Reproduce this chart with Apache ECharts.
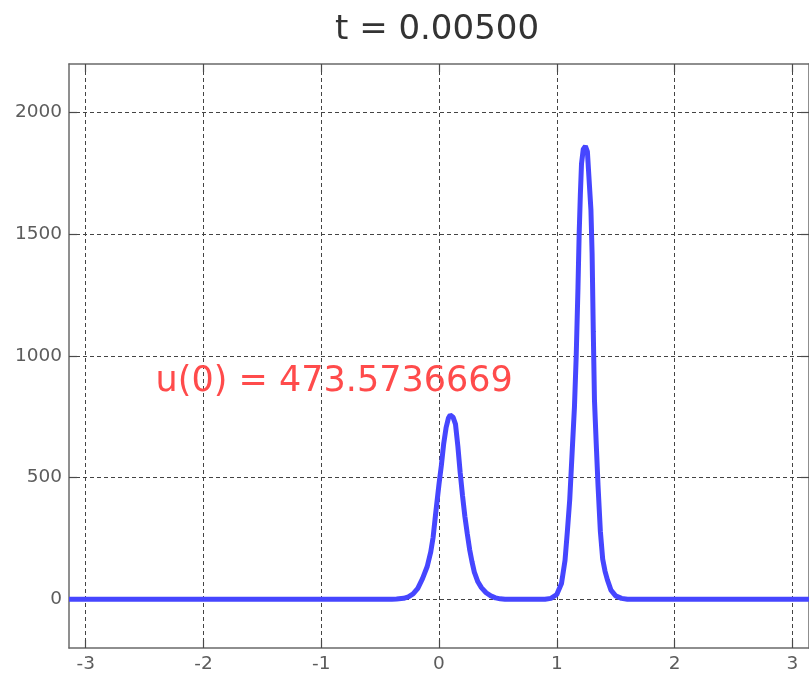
<!DOCTYPE html>
<html>
<head>
<meta charset="utf-8">
<script src="https://cdn.jsdelivr.net/npm/echarts@6/dist/echarts.min.js"></script>
<style>
  html, body { margin: 0; padding: 0; background: #fff; }
  #chart { width: 809px; height: 674px; }
</style>
</head>
<body>
<div id="chart"></div>
<script>
// Solution profile u(x) at time t
const timeValue = '0.00500';
const xs = [
  -3.1416, -0.40, -0.36, -0.30, -0.26, -0.22, -0.18, -0.14, -0.10, -0.07,
  -0.05, -0.03, 0.00, 0.02, 0.04, 0.06, 0.08, 0.095, 0.12, 0.14,
  0.16, 0.18, 0.20, 0.22, 0.24, 0.26, 0.28, 0.30, 0.33, 0.36,
  0.40, 0.44, 0.48, 0.52, 0.56, 0.90, 0.95, 1.00, 1.04, 1.07,
  1.09, 1.11, 1.13, 1.15, 1.165, 1.18, 1.19, 1.20, 1.21, 1.225,
  1.243, 1.26, 1.275, 1.29, 1.30, 1.31, 1.32, 1.335, 1.35, 1.37,
  1.39, 1.41, 1.43, 1.46, 1.50, 1.55, 1.60, 3.1416
];
const us = [
  0, 0, 1, 4, 10, 22, 45, 85, 135, 195,
  255, 345, 473.5736669, 550, 640, 705, 745, 757, 748, 720,
  630, 520, 425, 340, 270, 205, 155, 112, 72, 48,
  27, 14, 6, 2, 0, 0, 4, 20, 65, 160,
  280, 410, 600, 790, 1000, 1280, 1500, 1660, 1790, 1850,
  1862, 1840, 1720, 1600, 1420, 1100, 820, 640, 470, 280,
  165, 115, 80, 38, 14, 4, 0, 0
];
const xTicks = [-3, -2, -1, 0, 1, 2, 3];
const yTicks = [0, 500, 1000, 1500, 2000];
const xDomain = [-Math.PI, Math.PI];
const yDomain = [-200, 2200];

// value at x = 0 shown in the annotation
const u0 = us[xs.indexOf(0)];
const labelAnchor = [-0.89, 895];

const font = '"DejaVu Sans", "Liberation Sans", Arial, sans-serif';
const frameColor = '#6a6a6a';
const tickColor = '#4a4a4a';
const gridLine = { show: true, lineStyle: { color: '#444', width: 1, type: [4, 3] } };

function frameAxis(position, values, withLabels, withGrid, domain) {
  return {
    type: 'value',
    position: position,
    min: domain[0],
    max: domain[1],
    axisLine: { show: true, onZero: false, lineStyle: { color: frameColor, width: 1.5 } },
    axisTick: { show: true, inside: true, length: 8, customValues: values,
                lineStyle: { color: tickColor, width: 1.2 } },
    axisLabel: { show: withLabels, customValues: values, color: '#5c5c5c',
                 fontFamily: font, fontSize: 18.5, margin: 7,
                 formatter: v => String(v) },
    splitLine: withGrid ? gridLine : { show: false }
  };
}

const chart = echarts.init(document.getElementById('chart'), null, { renderer: 'canvas' });
chart.setOption({
  backgroundColor: '#ffffff',
  animation: false,
  title: {
    text: 't = ' + timeValue,
    left: 330,
    top: 8,
    textStyle: { fontFamily: font, fontSize: 34, fontWeight: 'normal', color: '#333' }
  },
  grid: { left: 69, top: 64, width: 743, height: 584, containLabel: false },
  xAxis: [
    frameAxis('bottom', xTicks, true, true, xDomain),
    frameAxis('top', xTicks, false, false, xDomain)
  ],
  yAxis: [
    frameAxis('left', yTicks, true, true, yDomain),
    frameAxis('right', yTicks, false, false, yDomain)
  ],
  series: [{
    type: 'line',
    data: xs.map((x, i) => [x, us[i]]),
    showSymbol: false,
    smooth: false,
    lineStyle: { color: '#4646ff', width: 5 },
    itemStyle: { color: '#4646ff' },
    markPoint: {
      symbol: 'circle',
      symbolSize: 0,
      itemStyle: { color: 'transparent' },
      label: {
        show: true,
        position: 'inside',
        formatter: 'u(0) = ' + u0,
        color: '#ff4b4b',
        fontFamily: font,
        fontSize: 35
      },
      data: [{ coord: labelAnchor, value: u0 }]
    }
  }]
});
</script>
</body>
</html>
